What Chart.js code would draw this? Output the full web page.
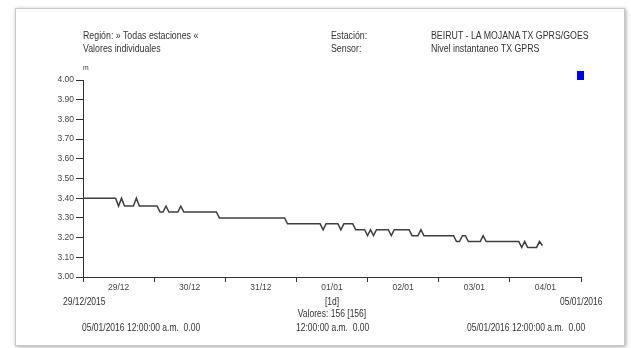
<!DOCTYPE html>
<html>
<head>
<meta charset="utf-8">
<script src="https://cdn.jsdelivr.net/npm/chart.js@4"></script>
<style>
  body { margin: 0; background: #fff; width: 631px; height: 348px; overflow: hidden; font-family: "Liberation Sans", Arial, sans-serif; color: #333; }
  .frame { position: absolute; left: 15px; top: 8px; width: 608px; height: 336px; border: 1px solid #c8c8c8; box-shadow: 1px 1px 4px rgba(0,0,0,0.35); background: #fff; }
  .t { position: absolute; font-size: 10px; white-space: nowrap; transform: scaleX(0.85); transform-origin: left center; line-height: 12px; }
  .h { transform: scaleX(0.88); }
  .c { transform-origin: center center; transform: translateX(-50%) scaleX(0.85); }
  #wrap { position: absolute; left: 0; top: 0; width: 631px; height: 348px; }
  .sq { position: absolute; left: 577px; top: 71px; width: 7px; height: 9px; background: #0000ee; }
</style>
</head>
<body>
<div class="frame"></div>
<div id="wrap"><canvas id="chart" width="631" height="348"></canvas></div>
<div class="t h" style="left:83px;top:30px">Región: » Todas estaciones «</div>
<div class="t h" style="left:83px;top:43px">Valores individuales</div>
<div class="t h" style="left:331px;top:30px">Estación:</div>
<div class="t h" style="left:331px;top:43px">Sensor:</div>
<div class="t h" style="left:431px;top:30px">BEIRUT - LA MOJANA TX GPRS/GOES</div>
<div class="t h" style="left:431px;top:43px">Nivel instantaneo TX GPRS</div>
<div class="t" style="left:83px;top:62px;font-size:8px">m</div>
<div class="sq"></div>
<div class="t" style="left:63px;top:296px">29/12/2015</div>
<div class="t" style="left:560px;top:296px">05/01/2016</div>
<div class="t c" style="left:332px;top:296px">[1d]</div>
<div class="t c" style="left:332px;top:308px">Valores: 156 [156]</div>
<div class="t" style="left:82px;top:322px">05/01/2016 12:00:00 a.m.&nbsp; 0.00</div>
<div class="t" style="left:296px;top:322px">12:00:00 a.m.&nbsp; 0.00</div>
<div class="t" style="left:467px;top:322px">05/01/2016 12:00:00 a.m.&nbsp; 0.00</div>
<script>
// one value per hour, starting 29/12/2015 00:00
const levels = [
  3.40, 3.40, 3.40, 3.40, 3.40, 3.40, 3.40, 3.40, 3.40, 3.40, 3.40, 3.40,
  3.36, 3.40, 3.36, 3.36, 3.36, 3.36, 3.40, 3.36, 3.36, 3.36, 3.36, 3.36,
  3.36, 3.36, 3.33, 3.33, 3.36, 3.33, 3.33, 3.33, 3.33, 3.36, 3.33, 3.33,
  3.33, 3.33, 3.33, 3.33, 3.33, 3.33, 3.33, 3.33, 3.33, 3.33, 3.30, 3.30,
  3.30, 3.30, 3.30, 3.30, 3.30, 3.30, 3.30, 3.30, 3.30, 3.30, 3.30, 3.30,
  3.30, 3.30, 3.30, 3.30, 3.30, 3.30, 3.30, 3.30, 3.30, 3.27, 3.27, 3.27,
  3.27, 3.27, 3.27, 3.27, 3.27, 3.27, 3.27, 3.27, 3.27, 3.24, 3.27, 3.27,
  3.27, 3.27, 3.27, 3.24, 3.27, 3.27, 3.27, 3.27, 3.24, 3.24, 3.24, 3.24,
  3.21, 3.24, 3.21, 3.24, 3.24, 3.24, 3.24, 3.24, 3.21, 3.24, 3.24, 3.24,
  3.24, 3.24, 3.24, 3.21, 3.21, 3.21, 3.24, 3.21, 3.21, 3.21, 3.21, 3.21,
  3.21, 3.21, 3.21, 3.21, 3.21, 3.21, 3.18, 3.18, 3.21, 3.21, 3.18, 3.18,
  3.18, 3.18, 3.18, 3.21, 3.18, 3.18, 3.18, 3.18, 3.18, 3.18, 3.18, 3.18,
  3.18, 3.18, 3.18, 3.18, 3.15, 3.18, 3.15, 3.15, 3.15, 3.15, 3.18, 3.16
];
const dayLabels = ["29/12", "30/12", "31/12", "01/01", "02/01", "03/01", "04/01"];
const yTicks = [3.0, 3.1, 3.2, 3.3, 3.4, 3.5, 3.6, 3.7, 3.8, 3.9, 4.0];

const axisColor = "#333";
const tickFont = { family: "'Liberation Sans', Arial, sans-serif", size: 8.5 };

new Chart(document.getElementById("chart"), {
  type: "line",
  data: {
    datasets: [{
      data: levels.map((v, i) => ({ x: i, y: v })),
      borderColor: "#3f3f3f",
      borderWidth: 1.5,
      pointRadius: 0,
      tension: 0,
      fill: false
    }]
  },
  options: {
    responsive: false,
    animation: false,
    events: [],
    layout: { padding: { left: 0, right: 50, top: 80, bottom: 0 } },
    plugins: { legend: { display: false }, tooltip: { enabled: false } },
    scales: {
      x: {
        type: "linear",
        min: 0,
        max: dayLabels.length * 24,
        afterBuildTicks: (scale) => {
          const t = [];
          for (let h = 0; h <= dayLabels.length * 24; h += 12) t.push({ value: h });
          scale.ticks = t;
        },
        afterFit: (scale) => { scale.height = 71; },
        border: { display: true, color: axisColor, width: 1 },
        grid: {
          drawOnChartArea: false,
          tickLength: 5,
          color: (ctx) => (ctx.tick && ctx.tick.value % 24 === 0 ? axisColor : "rgba(0,0,0,0)")
        },
        ticks: {
          autoSkip: false,
          maxRotation: 0,
          padding: 1,
          color: "#444",
          font: tickFont,
          callback: (v) => (v % 24 === 12 ? dayLabels[(v - 12) / 24] : "")
        }
      },
      y: {
        min: yTicks[0],
        max: yTicks[yTicks.length - 1],
        afterBuildTicks: (scale) => { scale.ticks = yTicks.map((v) => ({ value: v })); },
        afterFit: (scale) => { scale.width = 83; },
        border: { display: true, color: axisColor, width: 1 },
        grid: { drawOnChartArea: false, tickLength: 7, color: axisColor },
        ticks: {
          padding: 2,
          color: "#444",
          font: tickFont,
          callback: (v) => v.toFixed(2)
        }
      }
    }
  }
});
</script>
</body>
</html>
